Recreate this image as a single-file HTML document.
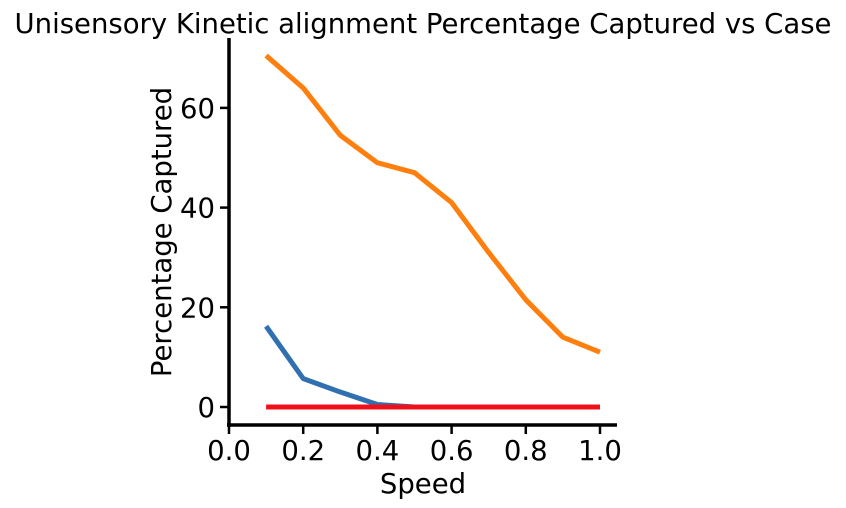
<!DOCTYPE html>
<html><head><meta charset="utf-8"><style>
body{margin:0;background:#fff;}
svg{display:block;font-family:"DejaVu Sans","Liberation Sans",sans-serif;}
</style></head><body>
<svg id="chart" width="846" height="508">
<text x="423" y="33" text-anchor="middle" font-size="27.5">Unisensory Kinetic alignment Percentage Captured vs Case</text>
<g id="axes"></g>
<g id="lines"></g>
<text x="423" y="493" text-anchor="middle" font-size="27.5">Speed</text>
<text transform="translate(171,232) rotate(-90)" text-anchor="middle" font-size="27.5">Percentage Captured</text>
</svg>
<script>
const speeds=[0.1,0.2,0.3,0.4,0.5,0.6,0.7,0.8,0.9,1.0];
const orangeSeries=[70.5,64,54.5,49,47,41,31,21.5,14,11];
const blueSeries=[16.2,5.7,3,0.5,0,0,0,0,0,0];
const redSeries=[0,0,0,0,0,0,0,0,0,0];
const xTicks=[0.0,0.2,0.4,0.6,0.8,1.0];
const yTicks=[0,20,40,60];
const NS="http://www.w3.org/2000/svg";
const xs=v=>229+v*371;
const ys=v=>407-v*4.985;
const axes=document.getElementById('axes'), lines=document.getElementById('lines');
function mk(t,a,p){const e=document.createElementNS(NS,t);for(const k in a)e.setAttribute(k,a[k]);p.appendChild(e);return e;}
const ya=mk('line',{x1:229,y1:38,x2:229,y2:427,stroke:'#000','stroke-width':3.5},axes);


const xa=mk('line',{x1:227,y1:425,x2:617,y2:425,stroke:'#000','stroke-width':3.5},axes);


xTicks.forEach(t=>{
 mk('line',{x1:xs(t),y1:425,x2:xs(t),y2:434,stroke:'#000','stroke-width':2.5},axes);
 const tx=mk('text',{x:xs(t),y:460,'text-anchor':'middle','font-size':27.5},axes);
 tx.textContent=t.toFixed(1);
 
 
});
yTicks.forEach(t=>{
 mk('line',{x1:220,y1:ys(t),x2:229,y2:ys(t),stroke:'#000','stroke-width':2.5},axes);
 const tx=mk('text',{x:215,y:ys(t)+10,'text-anchor':'end','font-size':27.5},axes);
 tx.textContent=t;
 
 
});
function line(data,color,name){
 const p=mk('polyline',{points:data.map((v,i)=>xs(speeds[i])+','+ys(v)).join(' '),fill:'none',stroke:color,'stroke-width':5,'stroke-linejoin':'round'},lines);
 
 
}
line(orangeSeries,'#ff7f0e','orange-series-line');
line(blueSeries,'#3070b0','blue-series-line');
line(redSeries,'#f0101c','red-series-line');
</script>
</body></html>
